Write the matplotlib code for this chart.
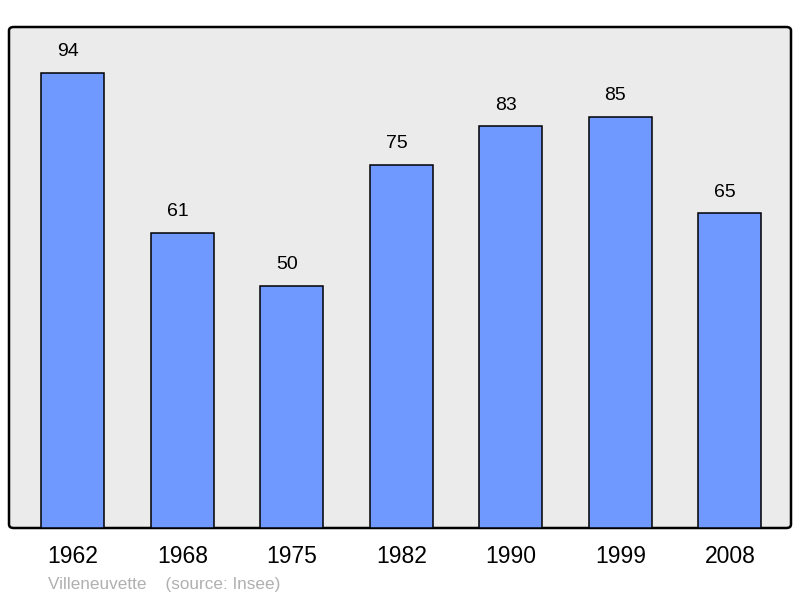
import matplotlib.pyplot as plt
from matplotlib.patches import FancyBboxPatch

plt.rcParams['font.family'] = ['Liberation Sans', 'DejaVu Sans']

years = ['1962', '1968', '1975', '1982', '1990', '1999', '2008']
population = [94, 61, 50, 75, 83, 85, 65]

W, H = 800, 598
fig = plt.figure(figsize=(W / 100, H / 100), dpi=100)
left, right, top, bottom = 9, 791, 27, 528
ax = fig.add_axes([left / W, 1 - bottom / H, (right - left) / W, (bottom - top) / H])
ax.set_facecolor('none')

# rounded grey frame behind the bars
frame = FancyBboxPatch((left / W, 1 - bottom / H), (right - left) / W, (bottom - top) / H,
                       boxstyle='round,pad=0,rounding_size=0.006', transform=fig.transFigure,
                       facecolor='#ebebeb', edgecolor='black', linewidth=1.8, zorder=0,
                       clip_on=False)
ax.add_patch(frame)

x = range(len(years))
ax.bar(x, population, width=0.575, color='#7099ff', edgecolor='black', linewidth=1.1, zorder=2)
for i, v in enumerate(population):
    # labels sit a little left of the bar centre in the original
    ax.text(i - 0.045, v + 2.6, str(v), ha='center', va='bottom', fontsize=14)

ax.set_xlim(-0.584, 6.558)
ax.set_ylim(0, 103.5)
for s in ax.spines.values():
    s.set_visible(False)
ax.set_yticks([])
ax.set_xticks(list(x))
ax.set_xticklabels(years, fontsize=16.5)
ax.tick_params(axis='x', length=0, pad=12)

fig.text(48 / W, 1 - 584 / H, 'Villeneuvette    (source: Insee)', color='#b0b0b0',
         fontsize=12.3, va='center', ha='left')

fig.savefig('out.png', dpi=100)
